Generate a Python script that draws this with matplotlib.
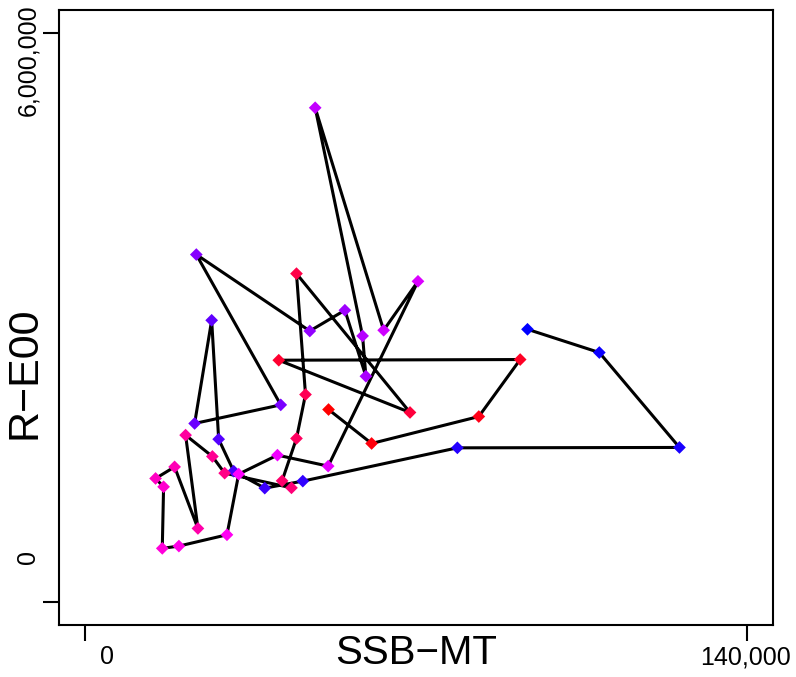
import matplotlib
matplotlib.use('Agg')
import matplotlib.pyplot as plt
import numpy as np
from matplotlib.colors import LinearSegmentedColormap

plt.rcParams['font.family'] = ['Liberation Sans', 'DejaVu Sans']

# spawning stock biomass (MT) and recruitment, in time order
ssb = [93610, 108820, 125790, 78760, 46030, 37970, 31390, 28210, 26730, 23120,
       41360, 23480, 47510, 54940, 59390, 58690, 48650, 63150, 70420, 51400,
       40660, 32450, 29970, 19790, 16270, 16550, 14850, 18880, 23820, 21210,
       26880, 29480, 43630, 41640, 44690, 46600, 44690, 68730, 40940, 92060,
       83300, 60600, 51480]
rec = [2873000, 2628000, 1627000, 1623000, 1272000, 1198000, 1377000, 1714000,
       2968000, 1880000, 2076000, 3661000, 2855000, 3074000, 2378000, 2803000,
       5209000, 2863000, 3379000, 1430000, 1546000, 1346000, 706000, 587000,
       563000, 1212000, 1300000, 1422000, 773000, 1757000, 1532000, 1356000,
       1201000, 1275000, 1722000, 2185000, 3460000, 1996000, 2547000, 2554000,
       1953000, 1669000, 2027000]

xticks = [0, 140000]
yticks = [0, 6000000]
xlabels = ['0', '140,000']
ylabels = ['0', '6,000,000']

W, H = 796, 677
fig = plt.figure(figsize=(W / 100, H / 100), dpi=100)
ax = fig.add_axes([59 / W, 1 - 624.5 / H, (773 - 59) / W, (624.5 - 10) / H])

cmap = LinearSegmentedColormap.from_list('bmr', ['blue', 'magenta', 'red'])
cols = cmap(np.linspace(0, 1, len(ssb)))

ax.plot(ssb, rec, color='black', lw=2.2, zorder=2)
ax.scatter(ssb, rec, c=cols, marker='D', s=42, linewidths=0, zorder=3)

ax.set_xlim(-5600, 145600)
ax.set_ylim(-240000, 6240000)
ax.set_xticks(xticks)
ax.set_yticks(yticks)
ax.set_xticklabels([])
ax.set_yticklabels([])
ax.tick_params(direction='out', length=11.5, width=1.5, color='black')
for s in ax.spines.values():
    s.set_linewidth(1.5)

# tick labels (placed as in the original)
fig.text(107 / W, 1 - 657 / H, xlabels[0], fontsize=18, ha='center', va='center')
fig.text(746 / W, 1 - 657 / H, xlabels[1], fontsize=18, ha='center', va='center')
fig.text(28 / W, 1 - 557 / H, ylabels[0], fontsize=18, ha='center', va='center', rotation=90)
fig.text(28 / W, 1 - 60 / H, ylabels[1], fontsize=18, ha='center', va='center', rotation=90)

fig.text(416 / W, 1 - 653 / H, 'SSB\u2212MT', fontsize=29, ha='center', va='center')
fig.text(25 / W, 1 - 373 / H, 'R\u2212E00', fontsize=31, ha='center', va='center', rotation=90)

fig.savefig('out.png', dpi=100)
